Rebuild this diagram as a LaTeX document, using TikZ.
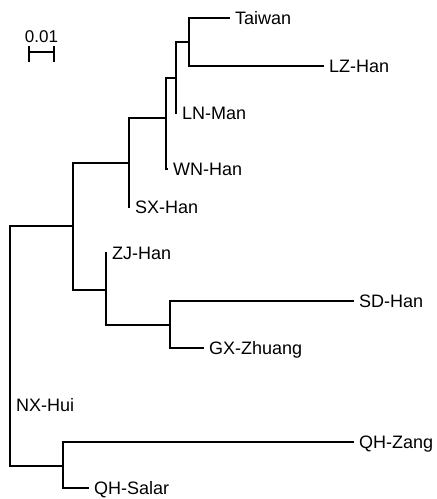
\documentclass[tikz,border=0pt]{standalone}
\usepackage{fontspec}
\setmainfont{Liberation Sans}
\usetikzlibrary{positioning}

\begin{document}
\begin{tikzpicture}[x=1pt,y=-1pt,line cap=rect,line join=miter,
  branch/.style={line width=1.4pt},
  taxon/.style={anchor=base west,inner sep=0pt,xshift=6pt,yshift=-6.5pt,font=\fontsize{18}{21}\selectfont}]
  \useasboundingbox (0,0) rectangle (437,499);
  % internal nodes of the tree
  \coordinate (R) at (10,346);\coordinate (A) at (73,226);\coordinate (B) at (129,163);\coordinate (D) at (166,118);
  \coordinate (E) at (176,78);\coordinate (F) at (189,42);\coordinate (C) at (106,290);\coordinate (H) at (170,325);
  \coordinate (G) at (63,466);
  % tips
  \coordinate (tw) at (229,18);\coordinate (lz) at (323,66);\coordinate (ln) at (176,113);\coordinate (wn) at (167,169);
  \coordinate (sx) at (129,207);\coordinate (zj) at (106,253);\coordinate (sd) at (353,301);\coordinate (gx) at (203,348);
  \coordinate (nx) at (10,405);\coordinate (qz) at (353,442);\coordinate (qs) at (88,488);
  % branches
  \draw[branch] (R)|-(A) (R)|-(G) (R)--(nx) (A)|-(B) (A)|-(C) (B)|-(D) (B)--(sx) (D)|-(E) (D)|-(wn)
    (E)|-(F) (E)--(ln) (F)|-(tw) (F)|-(lz) (C)--(zj) (C)|-(H) (H)|-(sd) (H)|-(gx) (G)|-(qz) (G)|-(qs);
  \node[taxon] (Ltw) at (tw) {Taiwan};\node[taxon] (Llz) at (lz) {LZ-Han};\node[taxon] (Lln) at (ln) {LN-Man};
  \node[taxon] (Lwn) at (wn) {WN-Han};\node[taxon] (Lsx) at (sx) {SX-Han};\node[taxon] (Lzj) at (zj) {ZJ-Han};
  \node[taxon] (Lsd) at (sd) {SD-Han};\node[taxon] (Lgx) at (gx) {GX-Zhuang};\node[taxon] (Lnx) at (nx) {NX-Hui};
  \node[taxon] (Lqz) at (qz) {QH-Zang};\node[taxon] (Lqs) at (qs) {QH-Salar};
  % scale bar
  \coordinate (S1) at (29,52);\coordinate (S2) at (54,52);
  \draw[line width=1.1pt] (S1)--(S2) ([yshift=5pt]S1)--([yshift=-9pt]S1) ([yshift=5pt]S2)--([yshift=-9pt]S2);
  \node[anchor=base,inner sep=0pt,font=\fontsize{17}{20}\selectfont] (scale) at (41.5,42) {0.01};
\end{tikzpicture}
\end{document}
